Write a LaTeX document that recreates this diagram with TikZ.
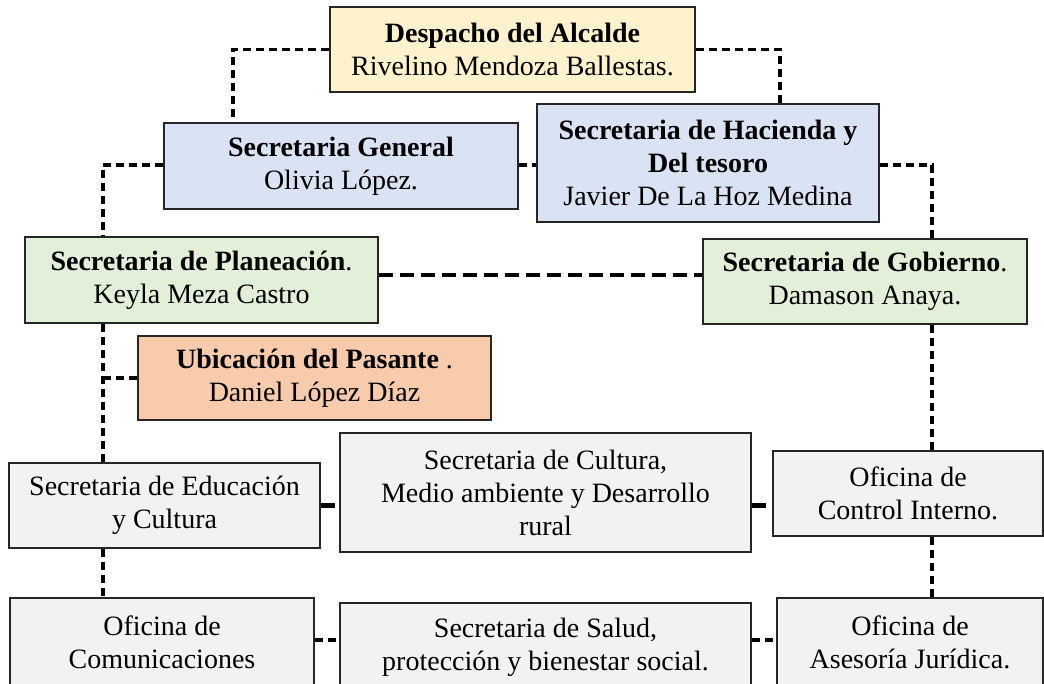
\documentclass[tikz,border=0pt]{standalone}
\usepackage{fontspec}
\setmainfont{Liberation Serif}
\usepackage{tikz}

\definecolor{alcaldefill}{HTML}{FFF2CC}
\definecolor{secfill}{HTML}{DAE3F3}
\definecolor{planfill}{HTML}{E2F0D9}
\definecolor{pasfill}{HTML}{F8CBAD}
\definecolor{ofifill}{HTML}{F2F2F2}

\begin{document}
\begin{tikzpicture}[x=1pt, y=-1pt,
	every node/.style={rectangle, draw=black!85, line width=1.6pt, align=center, inner sep=0pt,
		font=\fontsize{28}{33}\selectfont},
	link/.style={draw=black, line width=3.2pt, dash pattern=on 8pt off 5pt},
	thicklink/.style={draw=black, line width=4.4pt, dash pattern=on 14pt off 7pt}]
			\clip (0,0) rectangle (1044,683);
			\fill[white] (0,0) rectangle (1044,683);
			
			\node[fill=alcaldefill, minimum width=365, minimum height=85] (alcalde) at (512.5,49.5){\textbf{Despacho del Alcalde}\\Rivelino Mendoza Ballestas.};
			\node[fill=secfill, minimum width=354, minimum height=86] (general) at (341,166){\textbf{Secretaria General}\\Olivia López.};
			\node[fill=secfill, minimum width=342, minimum height=118] (hacienda) at (708,163){\textbf{Secretaria de Hacienda y}\\\textbf{Del tesoro}\\Javier De La Hoz Medina};
			\node[fill=planfill, minimum width=353, minimum height=86] (planeacion) at (201.5,280){\textbf{Secretaria de Planeación}.\\Keyla Meza Castro};
			\node[fill=planfill, minimum width=324, minimum height=85] (gobierno) at (865,281.5){\textbf{Secretaria de Gobierno}.\\Damason Anaya.};
			\node[fill=pasfill, minimum width=353, minimum height=84] (pasante) at (314.5,378){\textbf{Ubicación del Pasante} .\\Daniel López Díaz};
			\node[fill=ofifill, minimum width=311, minimum height=85] (educacion) at (164.5,505.5){Secretaria de Educación\\y Cultura};
			\node[fill=ofifill, minimum width=411, minimum height=119] (cultura) at (545.5,492.5){Secretaria de Cultura,\\Medio ambiente y Desarrollo\\rural};
			\node[fill=ofifill, minimum width=270, minimum height=85] (control) at (908,493.5){Oficina de\\Control Interno.};
			\node[fill=ofifill, minimum width=304, minimum height=88] (comunic) at (162,642){Oficina de\\Comunicaciones};
			\node[fill=ofifill, minimum width=411, minimum height=88] (salud) at (545.5,647){Secretaria de Salud,\\protección y bienestar social.};
			\node[fill=ofifill, minimum width=266, minimum height=88] (asesoria) at (910,642){Oficina de\\Asesoría Jurídica.};
			
			\coordinate (lt) at (103,0);
			\coordinate (rt) at (932,0);
			
			\path[link] (alcalde.west) -| ([xshift=-108]general.north);
			\path[link] (alcalde.east) -| ([xshift=72]hacienda.north);
			\path[link] ([yshift=1]general.west) -| (planeacion.north -| lt);
			\path[link] ([yshift=1]general.east) -- ([yshift=1]general.east -| hacienda.west);
			\path[link] ([yshift=-2]hacienda.east) -| (gobierno.north -| rt);
			\path[thicklink] ([yshift=5]planeacion.east) -- ([yshift=5]planeacion.east -| gobierno.west);
			\path[link] (planeacion.south -| lt) -- (educacion.north -| lt);
			\path[link] (pasante.west) -- (pasante.west -| lt);
			\path[thicklink] (educacion.east) -- (educacion.east -| cultura.west);
			\path[thicklink] ([yshift=-13]cultura.east) -- ([yshift=-13]cultura.east -| control.west);
			\path[link] (gobierno.south -| rt) -- (control.north -| rt);
			\path[link] (control.south -| rt) -- (asesoria.north -| rt);
			\path[link] (educacion.south -| lt) -- (comunic.north -| lt);
			\path[link] ([yshift=2]comunic.east) -- ([yshift=2]comunic.east -| salud.west);
			\path[link] ([yshift=7]salud.east) -- ([yshift=7]salud.east -| asesoria.west);
			\end{tikzpicture}
\end{document}
